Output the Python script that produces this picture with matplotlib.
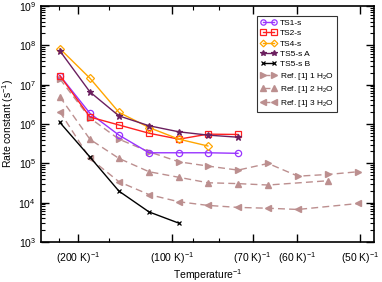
import numpy as np
import matplotlib
matplotlib.use("Agg")
import matplotlib.pyplot as plt
from matplotlib.ticker import FixedLocator, LogLocator, NullFormatter

plt.rcParams['font.family'] = ['Liberation Sans', 'DejaVu Sans']
plt.rcParams['mathtext.fontset'] = 'custom'
plt.rcParams['mathtext.rm'] = 'Liberation Sans'
plt.rcParams['mathtext.it'] = 'Liberation Sans:italic'

# inverse temperatures (1/K) of the data points
inv_T = [0.00404, 0.00564, 0.00718, 0.00878, 0.01037, 0.01191,
         0.01351, 0.01511, 0.01670, 0.01830, 0.01990]

ts1 = [1.7e7, 1.86e6, 5.2e5, 1.85e5, 1.85e5, 1.85e5, 1.79e5]
ts2 = [1.68e7, 1.5e6, 9.4e5, 5.8e5, 4.1e5, 5.5e5, 5.4e5]
ts4 = [8.2e7, 1.45e7, 1.97e6, 8.1e5, 4.1e5, 2.75e5]
ts5a = [7.2e7, 6.5e6, 1.6e6, 9.0e5, 6.3e5, 5.2e5, 4.6e5]
ts5b = [1.09e6, 1.44e5, 1.96e4, 5.8e3, 3.0e3]

ref1 = [1.39e7, 1.41e6, 4.1e5, 1.96e5, 1.09e5, 8.5e4, 6.7e4, 9.9e4, 4.7e4, 5.2e4, 6.1e4]
ref1_idx = [0, 1, 2, 3, 4, 5, 6, 7, 8, 9, 10]
ref2 = [4.9e6, 4.06e5, 1.33e5, 6.1e4, 4.4e4, 3.2e4, 3.04e4, 2.8e4, 3.6e4]
ref2_idx = [0, 1, 2, 3, 4, 5, 6, 7, 9]
ref3 = [2.04e6, 1.33e5, 3.4e4, 1.6e4, 1.05e4, 8.5e3, 7.55e3, 7.2e3, 6.7e3, 9.5e3]
ref3_idx = [0, 1, 2, 3, 4, 5, 6, 7, 8, 10]

major_T = [200, 100, 70, 60, 50]
minor_T = [250, 150, 90, 80]
tick_labels = [f"({t} K)$^{{-1}}$" for t in major_T]

fig = plt.figure(figsize=(3.82, 2.82), dpi=100)
ax = fig.add_axes([0.107, 0.142, 0.872, 0.837])

def xs(n):
    return inv_T[:n]

ms = 4.5
lw = 1.0
ax.plot(xs(len(ts1)), ts1, color='#9933ff', marker='o', mfc='none', ms=ms, lw=lw, mew=0.9, label='TS1-s', zorder=5)
ax.plot(xs(len(ts2)), ts2, color='#ff2020', marker='s', mfc='none', ms=ms, lw=lw, mew=0.9, label='TS2-s', zorder=5)
ax.plot(xs(len(ts4)), ts4, color='#ffa500', marker='D', mfc='none', ms=4.0, lw=lw, mew=0.9, label='TS4-s', zorder=5)
ax.plot(xs(len(ts5a)), ts5a, color='#6b1f5f', marker='*', ms=4.5, lw=lw, mew=0.9, label='TS5-s A', zorder=5)
ax.plot(xs(len(ts5b)), ts5b, color='black', marker='x', ms=3.5, lw=lw, mew=0.9, label='TS5-s B', zorder=5)

rc = '#bc8f8f'
ax.plot([inv_T[i] for i in ref1_idx], ref1, color=rc, ls=(0, (5, 3)), marker='>', ms=4.5, lw=1.0, label='Ref. [1] 1 H$_2$O', zorder=3)
ax.plot([inv_T[i] for i in ref2_idx], ref2, color=rc, ls=(0, (5, 3)), marker='^', ms=4.5, lw=1.0, label='Ref. [1] 2 H$_2$O', zorder=3)
ax.plot([inv_T[i] for i in ref3_idx], ref3, color=rc, ls=(0, (5, 3)), marker='<', ms=4.5, lw=1.0, label='Ref. [1] 3 H$_2$O', zorder=3)

ax.set_yscale('log')
ax.set_ylim(1e3, 1e9)
ax.set_xlim(0.00303, 0.02074)

ax.xaxis.set_major_locator(FixedLocator([1.0 / t for t in major_T]))
ax.set_xticklabels(tick_labels)
ax.xaxis.set_minor_locator(FixedLocator([1.0 / t for t in minor_T]))
ax.yaxis.set_major_locator(LogLocator(base=10, numticks=10))
ax.yaxis.set_minor_locator(LogLocator(base=10, subs=np.arange(2, 10), numticks=100))
ax.yaxis.set_minor_formatter(NullFormatter())

ax.tick_params(which='both', direction='in', top=True, right=True, labelsize=7.5)
ax.tick_params(which='major', length=6, width=1)
ax.tick_params(which='minor', length=3, width=0.8)
ax.tick_params(axis='x', which='major', pad=6)
for s in ax.spines.values():
    s.set_linewidth(1.2)

ax.set_xlabel('Temperature$^{-1}$', fontsize=7.5, labelpad=0.5)
ax.set_ylabel('Rate constant (s$^{-1}$)', fontsize=7.5, labelpad=2)

leg = ax.legend(loc='upper left', bbox_to_anchor=(0.649, 0.958), fontsize=6, numpoints=2,
                handlelength=1.9, handletextpad=0.4, borderpad=0.4, labelspacing=0.3,
                markerscale=0.85, frameon=True, fancybox=False, edgecolor='black',
                borderaxespad=0)
leg.get_frame().set_linewidth(0.8)

fig.savefig('out.png', dpi=100)
